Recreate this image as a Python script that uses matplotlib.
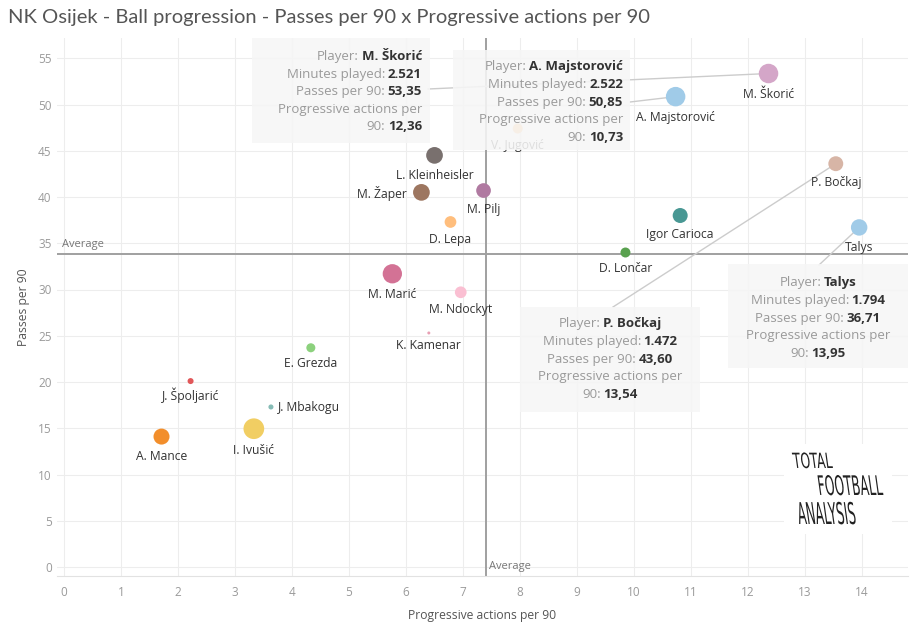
import matplotlib
matplotlib.use("Agg")
import matplotlib.pyplot as plt
from matplotlib.patches import Rectangle, PathPatch
from matplotlib.textpath import TextPath
from matplotlib.font_manager import FontProperties
from matplotlib.transforms import Affine2D, IdentityTransform
import numpy as np

plt.rcParams['font.family'] = ['Open Sans', 'DejaVu Sans']

# data
players = ['M. Škorić', 'A. Majstorović', 'P. Bočkaj', 'Talys', 'V. Jugović',
           'L. Kleinheisler', 'M. Žaper', 'M. Pilj', 'D. Lepa', 'Igor Carioca',
           'D. Lončar', 'M. Marić', 'M. Ndockyt', 'K. Kamenar', 'E. Grezda',
           'J. Špoljarić', 'J. Mbakogu', 'A. Mance', 'I. Ivušić']
prog_per90 = [12.36, 10.73, 13.54, 13.95, 7.96, 6.50, 6.27, 7.36, 6.78, 10.81,
              9.85, 5.76, 6.96, 6.40, 4.33, 2.22, 3.63, 1.71, 3.33]
passes_per90 = [53.35, 50.85, 43.60, 36.71, 47.4, 44.5, 40.5, 40.7, 37.3, 38.0,
                34.0, 31.7, 29.7, 25.3, 23.7, 20.1, 17.3, 14.1, 14.95]
minutes = [2521, 2522, 1472, 1794, 660, 1850, 1850, 1430, 910, 1490,
           660, 2470, 910, 60, 540, 240, 170, 1700, 2840]
colors = ['#D4A6C8', '#A0CBE8', '#D7B5A6', '#A0CBE8', '#FFBE7D',
          '#79706E', '#9D7660', '#B07AA1', '#FFBE7D', '#499894',
          '#59A14F', '#D37295', '#FABFD2', '#E8A0B4', '#8CD17D',
          '#E15759', '#86BCB6', '#F28E2B', '#F1CE63']
avg_prog = 7.40
avg_pass = 33.84

W, H = 923, 625
fig = plt.figure(figsize=(W / 100, H / 100), dpi=100)
ax = fig.add_axes([57.2 / W, 1 - 576.25 / H, (907.6 - 57.2) / W, (576.25 - 37.9) / H])
ax.set_xlim(-0.12, 14.8)
ax.set_ylim(-1.0, 57.2)

ax.set_xticks(range(15))
ax.set_yticks(range(0, 56, 5))
ax.grid(color='#ededed', lw=0.8, zorder=0)
ax.set_axisbelow(True)
for s in ['top', 'right', 'left']:
    ax.spines[s].set_visible(False)
ax.spines['bottom'].set_color('#e2e2e2')
ax.tick_params(length=0, labelsize=8.5, labelcolor='#9a9a9a')
ax.tick_params(axis='x', pad=7)
ax.tick_params(axis='y', pad=4)
ax.set_xlabel('Progressive actions per 90', fontsize=8.7, color='#555555', labelpad=7)
ax.set_ylabel('Passes per 90', fontsize=8.7, color='#555555', labelpad=6)

# average lines
ax.axhline(avg_pass, color='#a0a0a0', lw=1.4, zorder=1)
ax.axvline(avg_prog, color='#a0a0a0', lw=1.4, zorder=1)
ax.annotate('Average', xy=(ax.get_xlim()[0], avg_pass), xytext=(3.6, 6.5),
            textcoords='offset points', fontsize=8, color='#777777', va='center')
ax.annotate('Average', xy=(avg_prog, 0), xytext=(2.2, 0),
            textcoords='offset points', fontsize=8, color='#777777', va='center')

# points
sizes = np.array(minutes) * 0.0782
ax.scatter(prog_per90, passes_per90, s=sizes, c=colors, edgecolors='none', zorder=3)

# point labels
lab_kw = dict(textcoords='offset points', va='center', fontsize=8.7, color='#333333', zorder=4)
for name, x, y, s in zip(players, prog_per90, passes_per90, sizes):
    r = np.sqrt(s) / 2 / 0.72
    if name == 'M. Žaper':
        ax.annotate(name, (x, y), xytext=(-(r + 6) * 0.72, -1), ha='right', **lab_kw)
    elif name == 'J. Mbakogu':
        ax.annotate(name, (x, y), xytext=((r + 4.5) * 0.72, -0.5), ha='left', **lab_kw)
    else:
        ax.annotate(name, (x, y), xytext=(0, -(r + 11.5) * 0.72), ha='center', **lab_kw)

# tooltips
renderer = fig.canvas.get_renderer()
inv = ax.transData.inverted()


def P(px, py):
    return inv.transform((px, H - py))


def tooltip(name, box, tx, ty, align, link):
    i = players.index(name)
    rows = [('Player:', name),
            ('Minutes played:', f'{minutes[i] / 1000:.3f}'),
            ('Passes per 90:', f'{passes_per90[i]:.2f}'.replace('.', ',')),
            ('Progressive actions per', ''),
            ('90:', f'{prog_per90[i]:.2f}'.replace('.', ','))]
    x0, y0, x1, y1 = box
    a = P(x0, y1)
    b = P(x1, y0)
    ax.add_patch(Rectangle(a, b[0] - a[0], b[1] - a[1], facecolor='#f6f6f6', alpha=0.88,
                           edgecolor='none', zorder=5, clip_on=False))
    lx, ly = P(*link)
    ax.plot([lx, prog_per90[i]], [ly, passes_per90[i]], color='#cccccc', lw=1, zorder=2,
            clip_on=False)
    for k, (lab, val) in enumerate(rows):
        py = ty + k * 17.6
        tl = ax.text(0, 0, lab, fontsize=9.5, color='#9a9a9a', va='center', ha='left', zorder=6)
        wl = tl.get_window_extent(renderer).width
        if val:
            tv = ax.text(0, 0, val, fontsize=9.5, fontweight='bold', color='#333333',
                         va='center', ha='left', zorder=6)
            wv = tv.get_window_extent(renderer).width
            gap = 2.5
        else:
            tv = None
            wv = 0
            gap = 0
        total = wl + gap + wv
        left = tx - total if align == 'right' else tx - total / 2
        tl.set_position(P(left, py))
        if tv is not None:
            tv.set_position(P(left + wl + gap, py))


tooltip('M. Škorić', (252, 38, 430, 143), 422, 56.5, 'right', (428, 89))
tooltip('A. Majstorović', (453, 50, 630, 150), 623, 67, 'right', (630, 102))
tooltip('P. Bočkaj', (520, 307, 700, 412), 610, 324, 'center', (613, 307))
tooltip('Talys', (728, 264, 908, 368), 818, 283, 'center', (819, 265))

# logo
fig.add_artist(Rectangle((784, H - 534), 108, 90, facecolor='white', edgecolor='none',
                         transform=IdentityTransform(), zorder=7))
fp = FontProperties(family='DejaVu Sans')
for word, px, base, sy in [('TOTAL', 794, 468, 1.05), ('FOOTBALL', 819, 495, 1.35),
                           ('ANALYSIS', 799, 524, 1.5)]:
    tp = TextPath((0, 0), word, size=20, prop=fp)
    tr = Affine2D().scale(0.615, sy).skew_deg(-8, 0).translate(px, H - base)
    fig.add_artist(PathPatch(tr.transform_path(tp), facecolor='#222222', edgecolor='none',
                             transform=IdentityTransform(), zorder=8))

fig.text(8 / W, 1 - 17 / H, 'NK Osijek - Ball progression - Passes per 90 x Progressive actions per 90',
         fontsize=14.5, color='#555555', va='center', family=['Lato', 'DejaVu Sans'])

fig.savefig('out.png', dpi=100)
